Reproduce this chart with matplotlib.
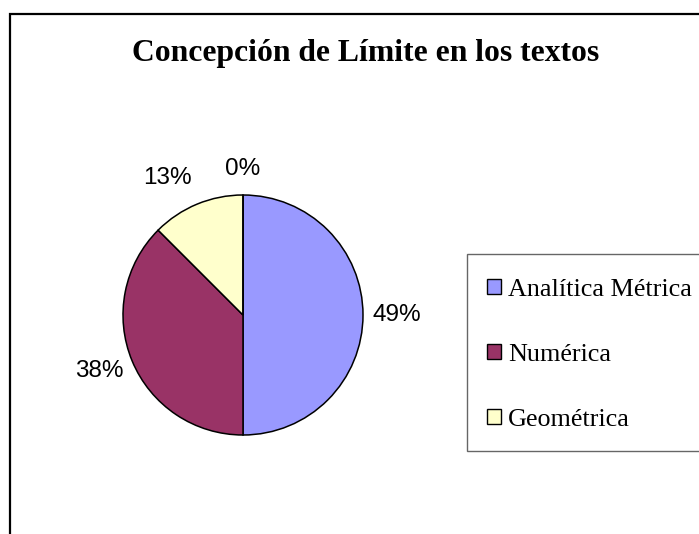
import matplotlib.pyplot as plt
from matplotlib.patches import Rectangle

# Data (slice sizes, labels as printed)
categories = ["Analítica Métrica", "Numérica", "Geométrica", ""]
values = [50, 37.5, 12.5, 0]
pct_labels = ["49%", "38%", "13%", "0%"]
colors = ["#9999FF", "#993366", "#FFFFCC", "#CCFFFF"]

# label centres in pie units (radius = 1)
label_pos = [(1.28, 0.0), (-1.20, -0.47), (-0.63, 1.14), (0.0, 1.22)]

W, H = 699, 534
fig = plt.figure(figsize=(W / 100, H / 100), dpi=100)

# outer chart frame (right and bottom run off the picture)
top = 1 - 14 / H
fig.add_artist(Rectangle((10 / W, -0.2), 2, top + 0.2, transform=fig.transFigure,
                         fill=False, edgecolor="black", linewidth=1.6))

fig.text(366 / W, 1 - 54 / H, "Concepción de Límite en los textos",
         ha="center", va="center", fontsize=22.8, fontweight="bold",
         family="Liberation Serif")

# pie axes: centre (243, 315) px, radius 120 px
cx, cy, r = 243, 315, 120
ax = fig.add_axes([(cx - r) / W, (H - cy - r) / H, 2 * r / W, 2 * r / H])
wedges, _ = ax.pie(values, colors=colors, startangle=90, counterclock=False,
                   wedgeprops=dict(edgecolor="black", linewidth=1.1))
ax.set_xlim(-1, 1)
ax.set_ylim(-1, 1)
ax.set_aspect("equal")
ax.axis("off")

for (x, y), txt in zip(label_pos, pct_labels):
    ax.text(x, y, txt, ha="center", va="center", fontsize=17.5,
            family="Liberation Sans", clip_on=False)

# legend box drawn on its own, runs off the right edge
fig.add_artist(Rectangle((467 / W, (H - 451) / H), 1, (451 - 254) / H,
                         transform=fig.transFigure, facecolor="white",
                         edgecolor="#666666", linewidth=1.0))

leg = fig.legend(wedges[:3], categories[:3], loc="upper left",
                 bbox_to_anchor=(487 / W, 1 - 279 / H),
                 prop=dict(family="Liberation Serif", size=18.8),
                 frameon=False,
                 handlelength=0.52, handleheight=0.52, handletextpad=0.28,
                 labelspacing=1.64, borderpad=0, borderaxespad=0)
for h in leg.legend_handles:
    h.set_linewidth(1.0)

fig.savefig("out.png", dpi=100)
